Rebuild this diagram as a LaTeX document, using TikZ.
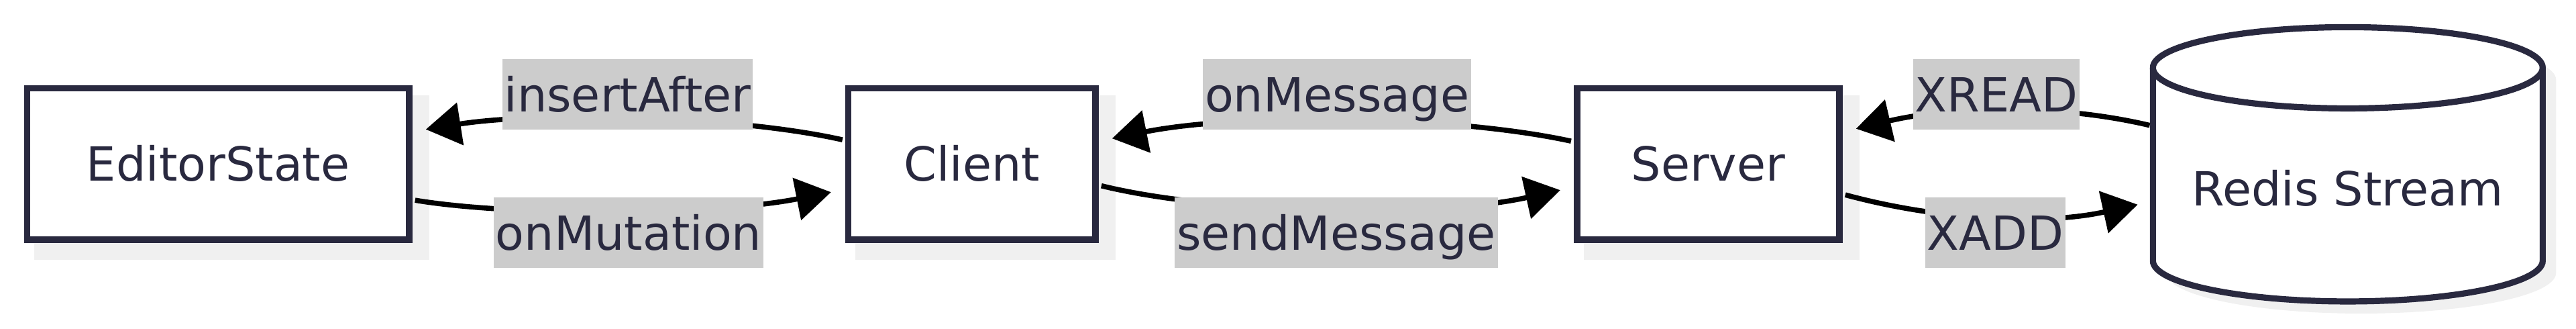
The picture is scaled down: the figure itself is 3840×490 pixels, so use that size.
\documentclass[tikz,border=0pt]{standalone}
\usepackage{fontspec}
\setmainfont{DejaVu Sans}
\usepackage{tikz}
\usetikzlibrary{arrows.meta,backgrounds,calc}
\definecolor{inkblue}{HTML}{29293F}
\definecolor{tagfill}{HTML}{CCCCCC}
\definecolor{shadowgray}{HTML}{F0F0F0}
\tikzset{
	boxtext/.style={font=\fontsize{17.5pt}{21pt}\selectfont, text=inkblue, text height=12.75pt, text depth=0pt},
	block/.style={boxtext, draw=inkblue, fill=white, line width=2.4pt, inner sep=0pt, minimum height=56.4pt},
	tag/.style={boxtext, fill=tagfill, inner xsep=0.75pt, inner ysep=0pt, minimum height=26.25pt},
	flow/.style={draw=black, line width=1.9pt, -{Triangle[length=13pt,width=15.7pt]}}
}
\newcommand{\dropshade}[1]{
	\fill[shadowgray] ($ (#1.north west) + (15.2,15.2) $) rectangle ($ (#1.south east) + (24.8,24.8) $);
}
% #1 options, #2 node, #3 #4 shift
\newcommand{\drum}[4]{
	\path[#1] ($ (#2.center) + (#3-290.5,#4-143.75) $) -- ($ (#2.center) + (#3-290.5,#4+143.75) $) arc (180:360:72.625pt and 15.125pt) -- ($ (#2.center) + (#3+290.5,#4-143.75) $) arc (0:180:72.625pt and 15.125pt) -- cycle;
}
\begin{document}
\begin{tikzpicture}[x=0.25pt,y=-0.25pt]
	\useasboundingbox (0,0) rectangle (3840,490);
%
	\node[block, minimum width=142.4pt] (editor) at (325.2,244.2) {EditorState};
	\node[block, minimum width=92.1pt] (client) at (1448.8,244.2) {Client};
	\node[block, minimum width=97.8pt] (server) at (2546.3,244.2) {Server};
	\node[inner sep=0pt, minimum width=145.25pt, minimum height=102pt] (redis) at (3499.8,244.7) {};
%
	\begin{scope}[on background layer]
		\dropshade{editor}
		\dropshade{client}
		\dropshade{server}
		\drum{fill=shadowgray}{redis}{20}{18}
	\end{scope}
%
	\drum{draw=inkblue, fill=white, line width=2.3pt}{redis}{0}{0}
	\draw[inkblue, line width=2.3pt] ($ (redis.center) + (-290.5,-143.75) $) arc (180:360:72.625pt and 15.125pt);
	\node[boxtext] (redistext) at ($ (redis.center) + (0,36) $) {Redis Stream};
%
	\coordinate (ia0) at ($ (client.west) + (-4,-36) $);
	\coordinate (ia1) at ($ (editor.east) + (20,-51.5) $);
	\draw[flow] (ia0) .. controls ($ (ia0) + (-160,-36) $) and ($ (ia1) + (170,-27) $) .. (ia1);
%
	\coordinate (om0) at ($ (editor.east) + (4,54) $);
	\coordinate (om1) at ($ (client.west) + (-21,42) $);
	\draw[flow] (om0) .. controls ($ (om0) + (150,25) $) and ($ (om1) + (-170,34) $) .. (om1);
%
	\coordinate (msg0) at ($ (server.west) + (-4,-34) $);
	\coordinate (msg1) at ($ (client.east) + (20,-38) $);
	\draw[flow] (msg0) .. controls ($ (msg0) + (-180,-39) $) and ($ (msg1) + (190,-38) $) .. (msg1);
%
	\coordinate (snd0) at ($ (client.east) + (4,32.5) $);
	\coordinate (snd1) at ($ (server.west) + (-20,39) $);
	\draw[flow] (snd0) .. controls ($ (snd0) + (170,42) $) and ($ (snd1) + (-190,42) $) .. (snd1);
%
	\coordinate (xr0) at ($ (redis.west) + (-4,-58) $);
	\coordinate (xr1) at ($ (server.east) + (20,-52.5) $);
	\draw[flow] (xr0) .. controls ($ (xr0) + (-140,-33) $) and ($ (xr1) + (140,-33) $) .. (xr1);
%
	\coordinate (xa0) at ($ (server.east) + (4,46) $);
	\coordinate (xa1) at ($ (redis.west) + (-22,60) $);
	\draw[flow] (xa0) .. controls ($ (xa0) + (140,38) $) and ($ (xa1) + (-140,31) $) .. (xa1);
%
	\node[tag] (insertafter) at (935.5,140.8) {insertAfter};
	\node[tag] (onmutation) at (937,347) {onMutation};
	\node[tag] (onmessage) at (1993,140.8) {onMessage};
	\node[tag] (sendmessage) at (1992,347) {sendMessage};
	\node[tag] (xread) at (2976,140.8) {XREAD};
	\node[tag] (xadd) at (2974.5,347) {XADD};
\end{tikzpicture}
\end{document}
